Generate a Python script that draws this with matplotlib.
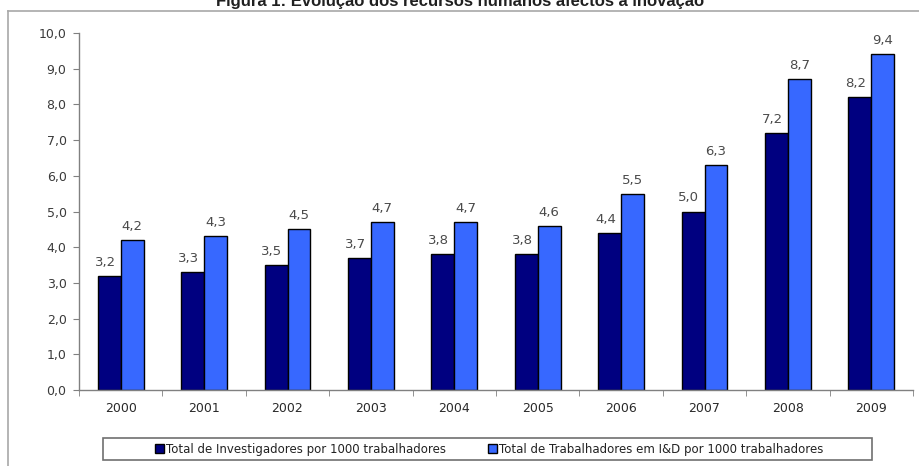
import matplotlib
matplotlib.use("Agg")
import matplotlib.pyplot as plt
from matplotlib.lines import Line2D
from matplotlib.patches import Rectangle
import numpy as np

years = ["2000", "2001", "2002", "2003", "2004", "2005", "2006", "2007", "2008", "2009"]
investigadores = [3.2, 3.3, 3.5, 3.7, 3.8, 3.8, 4.4, 5.0, 7.2, 8.2]
trabalhadores_id = [4.2, 4.3, 4.5, 4.7, 4.7, 4.6, 5.5, 6.3, 8.7, 9.4]
yticks = [0, 1, 2, 3, 4, 5, 6, 7, 8, 9, 10]
series_names = ["Total de Investigadores por 1000 trabalhadores",
                "Total de Trabalhadores em I&D por 1000 trabalhadores"]
title = "Figura 1: Evolução dos recursos humanos afectos à inovação"

W, H = 919, 466
plt.rcParams['font.family'] = ['DejaVu Sans']
fig = plt.figure(figsize=(W / 100, H / 100), dpi=100)

def fx(px):
    return px / W

def fy(py):
    return 1 - py / H

# outer frame (top and left edges only visible)
fig.add_artist(Line2D([fx(8), 1.0], [fy(11), fy(11)], transform=fig.transFigure,
                      color='#a8a8a8', linewidth=1.2))
fig.add_artist(Line2D([fx(8), fx(8)], [fy(11), 0.0], transform=fig.transFigure,
                      color='#a8a8a8', linewidth=1.2))
fig.text(fx(460), fy(6), title, ha='center', va='baseline',
         fontsize=12, fontweight='bold', color='#202020',
         family=['Liberation Sans', 'DejaVu Sans'])

left, right = 79, 913
top, bottom = 33, 390
ax = fig.add_axes([fx(left), fy(bottom), (right - left) / W, (bottom - top) / H])

x = np.arange(len(years))
bw = 0.275
dark = '#000080'
light = '#3768ff'
b1 = ax.bar(x - bw / 2, investigadores, bw, color=dark, edgecolor='black', linewidth=1.0,
            label=series_names[0])
b2 = ax.bar(x + bw / 2, trabalhadores_id, bw, color=light, edgecolor='black', linewidth=1.0,
            label=series_names[1])

for xi, v in zip(x - bw / 2, investigadores):
    ax.text(xi - 0.05, v + 0.2, f"{v:.1f}".replace('.', ','), ha='center', va='bottom',
            fontsize=9.5, color='#4a4a4a')
for xi, v in zip(x + bw / 2, trabalhadores_id):
    ax.text(xi, v + 0.2, f"{v:.1f}".replace('.', ','), ha='center', va='bottom',
            fontsize=9.5, color='#4a4a4a')

ax.set_xlim(-0.5, len(years) - 0.5)
ax.set_ylim(0, 10)
ax.set_yticks(yticks)
ax.set_yticklabels([f"{t:.1f}".replace('.', ',') for t in yticks], fontsize=9, color='#3a3a3a')
ax.set_xticks(x)
ax.set_xticklabels(years, fontsize=9, color='#2a2a2a')
ax.set_xticks(np.arange(len(years) + 1) - 0.5, minor=True)
ax.tick_params(axis='x', which='major', length=0, pad=9)
ax.tick_params(axis='x', which='minor', length=4, color='#808080', direction='out')
ax.tick_params(axis='y', length=4, color='#808080', direction='out', pad=5)
for s in ['top', 'right']:
    ax.spines[s].set_visible(False)
for s in ['left', 'bottom']:
    ax.spines[s].set_color('#808080')
    ax.spines[s].set_linewidth(1.0)

# legend box drawn manually, entries via frameless legend
fig.add_artist(Rectangle((fx(103), fy(460)), (872 - 103) / W, (460 - 438) / H,
                         transform=fig.transFigure, fill=False,
                         edgecolor='#707070', linewidth=1.2))
leg = fig.legend(handles=[b1, b2], loc='center', bbox_to_anchor=(fx(489), fy(449)),
                 ncol=2, fontsize=8.5, frameon=False,
                 handlelength=0.75, handleheight=0.75, handletextpad=0.15, columnspacing=3.6,
                 borderpad=0.2)
for t in leg.get_texts():
    t.set_color('#222222')

fig.savefig("out.png", dpi=100)
